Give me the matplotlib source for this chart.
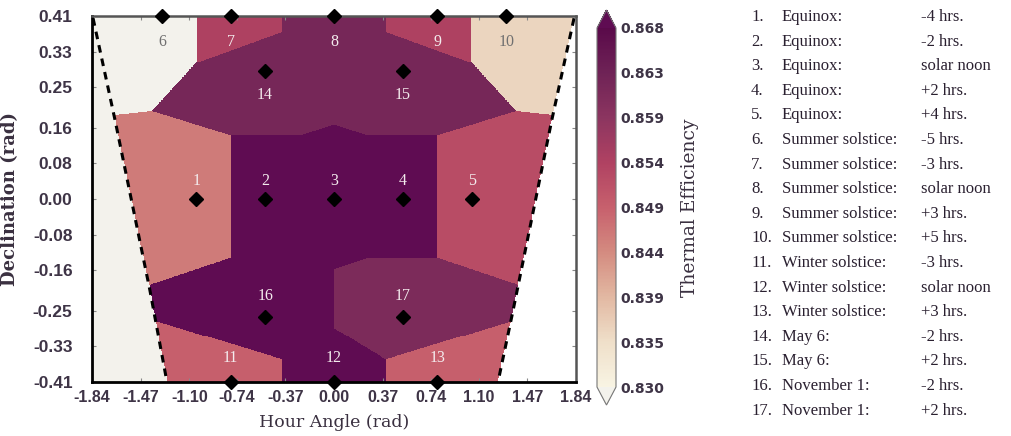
import numpy as np
import matplotlib.pyplot as plt
from matplotlib.colors import LinearSegmentedColormap, Normalize

# sample points: hour angle (rad), declination (rad), thermal efficiency
hour_angle = [-1.047, -0.524, 0.0, 0.524, 1.047,
              -1.309, -0.785, 0.0, 0.785, 1.309,
              -0.785, 0.0, 0.785,
              -0.524, 0.524,
              -0.524, 0.524]
declination = [0.0, 0.0, 0.0, 0.0, 0.0,
               0.409, 0.409, 0.409, 0.409, 0.409,
               -0.409, -0.409, -0.409,
               0.287, 0.287,
               -0.265, -0.265]
efficiency = [0.846, 0.869, 0.869, 0.869, 0.852,
              0.829, 0.854, 0.862, 0.854, 0.836,
              0.849, 0.869, 0.849,
              0.862, 0.862,
              0.869, 0.861]

# dashed limits of the operating window
left_ha = [-1.832, -1.665, -1.40, -1.27]
left_dec = [0.405, 0.177, -0.204, -0.41]
right_ha = [1.825, 1.656, 1.362, 1.247]
right_dec = [0.405, 0.177, -0.249, -0.41]

x_ticks = [-1.84, -1.47, -1.10, -0.74, -0.37, 0.00, 0.37, 0.74, 1.10, 1.47, 1.84]
y_ticks = [-0.41, -0.33, -0.25, -0.16, -0.08, 0.00, 0.08, 0.16, 0.25, 0.33, 0.41]
y_labels = ['-0.41', '-0.33', '-0.25', '-0.16', '-0.08', '0.00', '0.08', '0.16', '0.25', '0.33', '0.41']
cb_ticks = [0.830, 0.83475, 0.8395, 0.84425, 0.849, 0.85375, 0.8585, 0.86325, 0.868]
cb_labels = ['0.830', '0.835', '0.839', '0.844', '0.849', '0.854', '0.859', '0.863', '0.868']

events = ['Equinox:', 'Equinox:', 'Equinox:', 'Equinox:', 'Equinox:',
          'Summer solstice:', 'Summer solstice:', 'Summer solstice:',
          'Summer solstice:', 'Summer solstice:',
          'Winter solstice:', 'Winter solstice:', 'Winter solstice:',
          'May 6:', 'May 6:', 'November 1:', 'November 1:']
times = ['-4 hrs.', '-2 hrs.', 'solar noon', '+2 hrs.', '+4 hrs.',
         '-5 hrs.', '-3 hrs.', 'solar noon', '+3 hrs.', '+5 hrs.',
         '-3 hrs.', 'solar noon', '+3 hrs.',
         '-2 hrs.', '+2 hrs.', '-2 hrs.', '+2 hrs.']

cmap = LinearSegmentedColormap.from_list('eff', [
    (0.0, '#f8f4e3'), (0.125, '#efdfc9'), (0.25, '#e2b8a2'),
    (0.375, '#d48b80'), (0.5, '#c7606d'), (0.625, '#b04262'),
    (0.75, '#8c3560'), (0.875, '#6f2356'), (1.0, '#5a0a4a')])
cmap.set_under('#f3f2ec')
cmap.set_over('#5f0c52')
cmap.set_bad((1, 1, 1, 0))
norm = Normalize(vmin=0.830, vmax=0.868)

hx = np.array(hour_angle)
hy = np.array(declination)
ev = np.array(efficiency)

# nearest sample in axis-normalised coordinates
xg = np.linspace(-1.84, 1.84, 740)
yg = np.linspace(-0.41, 0.41, 370)
X, Y = np.meshgrid(xg, yg)
d = ((X[..., None] - hx) / 3.68) ** 2 + ((Y[..., None] - hy) / 0.82) ** 2
Z = ev[np.argmin(d, axis=2)]
lim_l = np.interp(Y, left_dec[::-1], left_ha[::-1])
lim_r = np.interp(Y, right_dec[::-1], right_ha[::-1])
Z[X < lim_l] = 0.80
Z[X > lim_r] = np.nan

fig = plt.figure(figsize=(10.12, 4.36), dpi=100)
ax = fig.add_axes([92 / 1012, 54 / 436, 484 / 1012, 366 / 436])
im = ax.imshow(Z, extent=[-1.84, 1.84, -0.41, 0.41], origin='lower',
               aspect='auto', cmap=cmap, norm=norm, interpolation='nearest')

ax.plot(left_ha, left_dec, color='black', lw=2.2, dashes=(2.5, 2))
ax.plot(right_ha, right_dec, color='black', lw=2.2, dashes=(2.5, 2))

ax.plot(hx, hy, 'D', color='black', ms=7, clip_on=False, zorder=5)
for i in range(len(hx)):
    if hy[i] > 0.35:
        dy = -0.058
    elif hy[i] > 0.2:
        dy = -0.055
    elif hy[i] < -0.35:
        dy = 0.052
    elif hy[i] < -0.2:
        dy = 0.048
    else:
        dy = 0.04
    col = '#707070' if ev[i] < 0.840 else '#f4ecee'
    ax.text(hx[i], hy[i] + dy, str(i + 1), ha='center', va='center',
            family='Liberation Serif', fontsize=11.5, color=col)

ax.set_xlim(-1.84, 1.84)
ax.set_ylim(-0.41, 0.41)
ax.set_xticks(x_ticks)
ax.set_xticklabels(['%.2f' % v for v in x_ticks])
ax.set_yticks(y_ticks)
ax.set_yticklabels(y_labels)
ax.tick_params(direction='in', length=3, color='#888888', top=True, right=True,
               labelcolor='#3e3446')
ax.tick_params(axis='x', labelsize=11.5, pad=6)
ax.tick_params(axis='y', labelsize=12.5, pad=14)
for lab in ax.get_xticklabels() + ax.get_yticklabels():
    lab.set_family('Liberation Sans')
    lab.set_fontweight('bold')
for s in ['left', 'bottom']:
    ax.spines[s].set_color('black')
    ax.spines[s].set_linewidth(2)
for s in ['top', 'right']:
    ax.spines[s].set_color('#555555')
    ax.spines[s].set_linewidth(1.8)

ax.set_xlabel('Hour Angle (rad)', family='DejaVu Serif', fontsize=12.5, color='#3a3040')
ax.xaxis.set_label_coords(0.5, -0.088)
ax.set_ylabel('Declination (rad)', family='DejaVu Serif', fontweight='bold',
              fontsize=13, color='#3a3040')
ax.yaxis.set_label_coords(-0.15, 0.5)

cax = fig.add_axes([597 / 1012, 31 / 436, 19 / 1012, 395 / 436])
cb = fig.colorbar(im, cax=cax, extend='both', ticks=cb_ticks)
cb.ax.set_yticklabels(cb_labels)
cb.outline.set_edgecolor('#777777')
cb.ax.tick_params(length=0, labelsize=10, labelcolor='#3e3446', pad=3)
for lab in cb.ax.get_yticklabels():
    lab.set_fontweight('bold')
cb.set_label('Thermal Efficiency', family='DejaVu Serif', fontsize=13.5,
             color='#3a3040', labelpad=12)

for i in range(len(events)):
    y = 1 - (17 + i * 24.6) / 436
    fig.text(751 / 1012, y, '%d.' % (i + 1), family='Liberation Serif',
             fontsize=12, color='#2a2030', va='center')
    fig.text(782 / 1012, y, events[i], family='Liberation Serif',
             fontsize=12, color='#2a2030', va='center')
    fig.text(921 / 1012, y, times[i], family='Liberation Serif',
             fontsize=12, color='#2a2030', va='center')

fig.savefig('out.png', dpi=100, facecolor='white')
